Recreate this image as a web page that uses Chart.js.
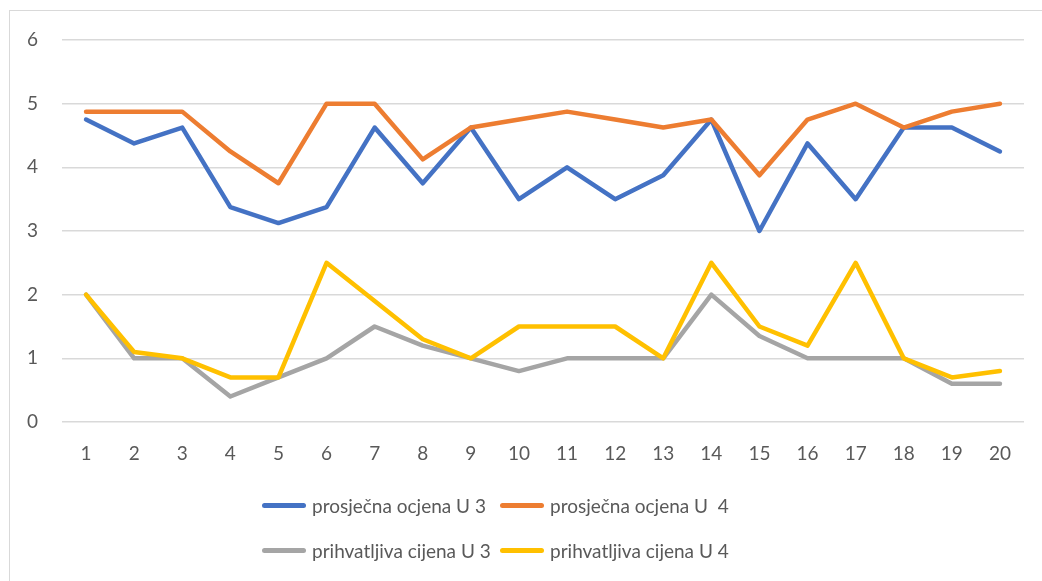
<!DOCTYPE html>
<html>
<head>
<meta charset="utf-8">
<script src="https://cdn.jsdelivr.net/npm/chart.js@4.4.1/dist/chart.umd.min.js"></script>
<style>
  html, body { margin: 0; padding: 0; background: #fff; overflow: hidden; }
  #wrap { position: relative; width: 1042px; height: 581px; overflow: hidden; }
  #frame { position: absolute; left: 9px; top: 10px; width: 1100px; height: 700px; border: 1.5px solid #d9d9d9; box-sizing: border-box; }
  canvas { position: absolute; left: 0; top: 0; }
  .leg { position: absolute; font-family: Lato, "Liberation Sans", sans-serif; font-size: 19px; color: #595959; white-space: pre; }
  .item { position: absolute; display: flex; align-items: center; height: 24px; }
  .sw { width: 44px; height: 5px; border-radius: 3px; margin-right: 6px; }
</style>
</head>
<body>
<div id="wrap">
  <div id="frame"></div>
  <canvas id="c" width="1042" height="581"></canvas>
  <div id="legend" class="leg"></div>
</div>
<script>
const categories = ["1","2","3","4","5","6","7","8","9","10","11","12","13","14","15","16","17","18","19","20"];
const seriesNames = ["prosječna ocjena U 3", "prosječna ocjena U  4", "prihvatljiva cijena U 3", "prihvatljiva cijena U 4"];
const prosjecnaU3 = [4.75, 4.375, 4.625, 3.375, 3.125, 3.375, 4.625, 3.75, 4.625, 3.5, 4.0, 3.5, 3.875, 4.75, 3.0, 4.375, 3.5, 4.625, 4.625, 4.25];
const prosjecnaU4 = [4.875, 4.875, 4.875, 4.25, 3.75, 5.0, 5.0, 4.125, 4.625, 4.75, 4.875, 4.75, 4.625, 4.75, 3.875, 4.75, 5.0, 4.625, 4.875, 5.0];
const prihvatljivaU3 = [2.0, 1.0, 1.0, 0.4, 0.7, 1.0, 1.5, 1.2, 1.0, 0.8, 1.0, 1.0, 1.0, 2.0, 1.35, 1.0, 1.0, 1.0, 0.6, 0.6];
const prihvatljivaU4 = [2.0, 1.1, 1.0, 0.7, 0.7, 2.5, 1.9, 1.3, 1.0, 1.5, 1.5, 1.5, 1.0, 2.5, 1.5, 1.2, 2.5, 1.0, 0.7, 0.8];
const yTicks = [0, 1, 2, 3, 4, 5, 6];

const colors = ["#4472C4", "#ED7D31", "#A5A5A5", "#FFC000"];
const values = [prosjecnaU3, prosjecnaU4, prihvatljivaU3, prihvatljivaU4];

const datasets = values.map((v, i) => ({
  label: seriesNames[i],
  data: v,
  borderColor: colors[i],
  backgroundColor: colors[i],
  borderWidth: 4.5,
  pointRadius: 0,
  pointHoverRadius: 0,
  tension: 0,
  borderJoinStyle: 'round',
  borderCapStyle: 'round',
  fill: false,
  order: 4 - i
}));

const FONT = { family: 'Lato, "Liberation Sans", sans-serif', size: 19 };

new Chart(document.getElementById('c'), {
  type: 'line',
  data: { labels: categories, datasets },
  options: {
    responsive: false,
    animation: false,
    devicePixelRatio: 1,
    layout: { padding: { left: 0, right: 18, top: 40, bottom: 119 } },
    plugins: { legend: { display: false }, tooltip: { enabled: false } },
    scales: {
      x: {
        type: 'category',
        offset: true,
        grid: { display: false, drawTicks: false },
        border: { display: false },
        ticks: { color: '#595959', font: FONT, padding: 20, maxRotation: 0, autoSkip: false },
        afterFit: s => { s.height = 40; }
      },
      y: {
        min: 0, max: 6,
        afterBuildTicks: s => { s.ticks = yTicks.map(v => ({ value: v })); },
        grid: { color: '#d9d9d9', lineWidth: 1.5, drawTicks: false },
        border: { display: false },
        ticks: { color: '#595959', font: FONT, padding: 24 },
        afterFit: s => { s.width = 62; }
      }
    }
  }
});

// HTML legend, 2 columns x 2 rows
const leg = document.getElementById('legend');
const colX = [262, 500];
const rowY = [493, 538];
seriesNames.forEach((name, i) => {
  const it = document.createElement('div');
  it.className = 'item';
  it.style.left = colX[i % 2] + 'px';
  it.style.top = rowY[Math.floor(i / 2)] + 'px';
  const sw = document.createElement('span');
  sw.className = 'sw';
  sw.style.background = colors[i];
  const tx = document.createElement('span');
  tx.textContent = name;
  it.appendChild(sw);
  it.appendChild(tx);
  leg.appendChild(it);
});
</script>
</body>
</html>
